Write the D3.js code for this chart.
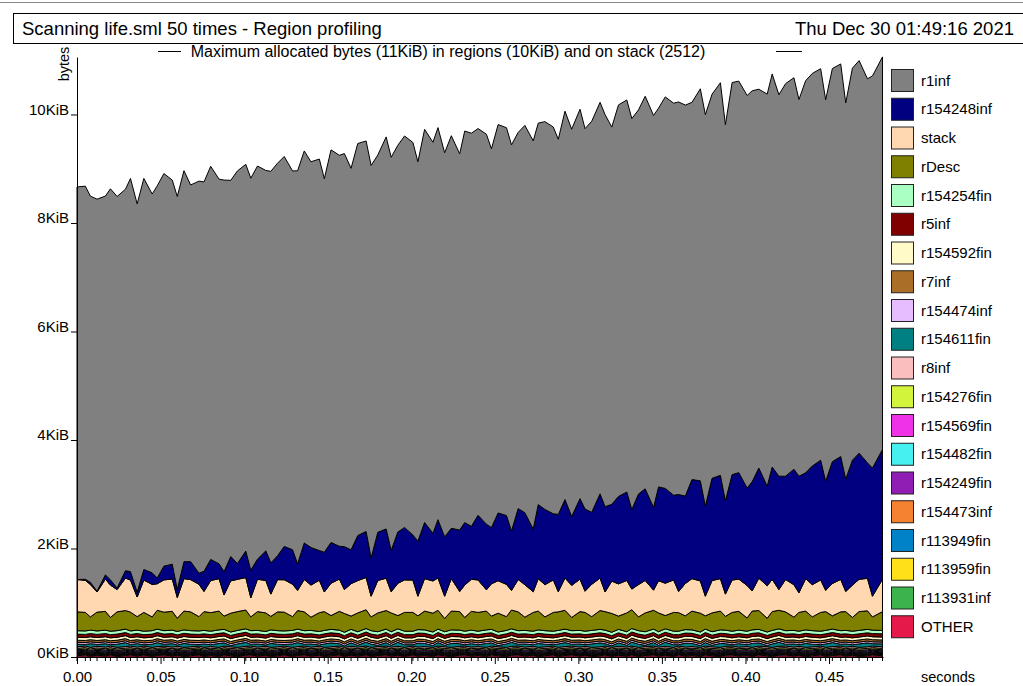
<!DOCTYPE html>
<html>
<head>
<meta charset="utf-8">
<script src="https://cdn.jsdelivr.net/npm/d3@7"></script>
<style>
  body { margin: 0; background: #fff; }
  text { font-family: "Liberation Sans", Arial, sans-serif; fill: #000; }
</style>
</head>
<body>
<script>
// Sample times (seconds)
const times = [
  0.000, 0.005, 0.008, 0.012, 0.017, 0.020, 0.024, 0.029, 0.032, 0.036,
  0.040, 0.045, 0.048, 0.052, 0.057, 0.060, 0.064, 0.068, 0.073, 0.076,
  0.080, 0.085, 0.088, 0.092, 0.096, 0.101, 0.104, 0.108, 0.113, 0.116,
  0.120, 0.124, 0.129, 0.132, 0.136, 0.140, 0.145, 0.148, 0.152, 0.157,
  0.160, 0.164, 0.168, 0.173, 0.176, 0.180, 0.185, 0.188, 0.192, 0.196,
  0.201, 0.204, 0.208, 0.213, 0.216, 0.220, 0.224, 0.229, 0.232, 0.236,
  0.240, 0.245, 0.248, 0.252, 0.257, 0.260, 0.264, 0.268, 0.273, 0.276,
  0.280, 0.285, 0.288, 0.292, 0.296, 0.301, 0.304, 0.308, 0.313, 0.316,
  0.320, 0.324, 0.329, 0.332, 0.336, 0.340, 0.345, 0.348, 0.352, 0.357,
  0.360, 0.364, 0.368, 0.373, 0.376, 0.380, 0.385, 0.388, 0.392, 0.396,
  0.401, 0.404, 0.408, 0.413, 0.416, 0.420, 0.424, 0.429, 0.432, 0.436,
  0.440, 0.445, 0.448, 0.452, 0.457, 0.460, 0.464, 0.468, 0.473, 0.476,
  0.482
];

// Bytes per region at each sample
const r1inf = [
  7410, 7420, 7290, 7400, 7150, 7380, 7390, 7200, 7420, 7330,
  7380, 7150, 7400, 7410, 7250, 7420, 7380, 7110, 7400, 7350,
  7420, 7260, 7390, 7100, 7410, 7300, 7400, 7420, 7180, 7390,
  7410, 7360, 7150, 7420, 7400, 7280, 7390, 7050, 7410, 7380,
  7420, 7200, 7400, 7370, 7410, 7120, 7400, 7420, 7300, 7390,
  7410, 7160, 7420, 7380, 7400, 7250, 7410, 7100, 7390, 7420,
  7300, 7360, 7150, 7330, 7320, 7290, 7100, 7310, 7330, 7200,
  7320, 7300, 7080, 7330, 7310, 7350, 7180, 7380, 7390, 7400,
  7120, 7390, 7400, 7380, 7250, 7410, 7400, 7150, 7390, 7400,
  7410, 7380, 7120, 7400, 7390, 7250, 7410, 7100, 7400, 7390,
  7410, 7380, 7150, 7400, 7420, 7200, 7410, 7390, 7110, 7400,
  7410, 7390, 7200, 7420, 7410, 7100, 7400, 7410, 7250, 7400,
  7410
];
const r154248inf = [
  0, 20, 40, 15, 80, 100, 30, 140, 160, 90,
  200, 220, 110, 260, 280, 150, 320, 340, 210, 380,
  400, 280, 440, 460, 300, 500, 520, 380, 560, 590,
  450, 630, 650, 500, 690, 710, 560, 750, 770, 620,
  810, 640, 850, 870, 720, 910, 930, 780, 970, 990,
  850, 1040, 1060, 900, 1100, 1120, 950, 1160, 1180, 1000,
  1220, 1240, 1060, 1280, 1300, 1120, 1340, 1360, 1180, 1400,
  1420, 1250, 1460, 1480, 1300, 1520, 1550, 1360, 1590, 1610,
  1450, 1650, 1670, 1500, 1710, 1730, 1560, 1770, 1790, 1600,
  1830, 1650, 1870, 1890, 1700, 1930, 1950, 1760, 1990, 2010,
  1840, 2060, 2080, 1880, 2120, 2140, 1950, 2180, 2200, 2000,
  2240, 2260, 2060, 2300, 2320, 2120, 2360, 2380, 2180, 2420,
  2450
];
const stack = [
  610, 605, 612, 380, 608, 610, 420, 612, 605, 370,
  610, 612, 500, 608, 610, 390, 612, 608, 610, 380,
  605, 612, 400, 610, 608, 612, 360, 610, 612, 420,
  608, 610, 612, 380, 610, 605, 612, 370, 610, 608,
  450, 612, 610, 608, 390, 612, 610, 400, 608, 612,
  610, 370, 612, 608, 610, 420, 612, 380, 610, 605,
  612, 400, 610, 612, 608, 370, 610, 612, 390, 610,
  608, 612, 380, 610, 605, 612, 400, 610, 612, 370,
  610, 608, 612, 390, 610, 612, 380, 608, 610, 612,
  400, 610, 612, 608, 370, 610, 612, 420, 610, 608,
  612, 380, 610, 612, 608, 390, 610, 612, 370, 610,
  608, 612, 400, 610, 612, 380, 608, 610, 612, 390,
  610
];
const rDesc = [
  355, 350, 250, 355, 355, 260, 355, 350, 355, 255,
  355, 260, 355, 350, 355, 250, 355, 355, 270, 355,
  350, 355, 250, 355, 355, 355, 260, 355, 350, 255,
  355, 355, 260, 350, 355, 250, 355, 355, 260, 355,
  355, 250, 355, 355, 260, 355, 350, 355, 250, 355,
  355, 260, 355, 355, 355, 250, 355, 350, 260, 355,
  355, 355, 250, 355, 260, 355, 355, 250, 355, 355,
  260, 355, 350, 355, 250, 355, 355, 260, 355, 350,
  355, 250, 355, 355, 260, 355, 355, 355, 250, 355,
  350, 260, 355, 355, 250, 355, 355, 260, 355, 355,
  250, 355, 355, 260, 355, 350, 355, 250, 355, 355,
  260, 355, 355, 250, 355, 355, 260, 355, 350, 250,
  355
];
const r154611fin = [
  50, 30, 70, 35, 65, 25, 60, 75, 30, 65,
  25, 60, 75, 35, 65, 25, 75, 50, 30, 65,
  35, 75, 60, 25, 65, 75, 35, 60, 25, 75,
  50, 30, 65, 75, 35, 60, 25, 65, 75, 45,
  30, 65, 35, 75, 60, 25, 65, 35, 75, 50,
  25, 75, 60, 35, 65, 30, 75, 50, 25, 65,
  35, 75, 60, 25, 65, 75, 35, 60, 30, 75,
  50, 25, 65, 75, 35, 60, 30, 65, 75, 45,
  30, 65, 35, 75, 60, 25, 65, 35, 75, 50,
  25, 75, 60, 35, 65, 30, 75, 50, 25, 65,
  35, 75, 60, 25, 65, 75, 35, 60, 30, 75,
  50, 25, 65, 75, 35, 60, 30, 65, 75, 45,
  55
];
const other = [
  25, 40, 15, 35, 20, 40, 15, 30, 40, 20,
  40, 15, 30, 40, 20, 35, 15, 25, 40, 15,
  30, 15, 40, 25, 15, 35, 40, 20, 35, 15,
  25, 40, 15, 30, 40, 20, 35, 15, 25, 40,
  15, 35, 20, 40, 15, 30, 40, 20, 35, 15,
  40, 20, 30, 15, 40, 25, 15, 35, 40, 20,
  30, 15, 40, 25, 15, 35, 40, 20, 35, 15,
  25, 40, 15, 30, 40, 20, 35, 15, 25, 40,
  15, 35, 20, 40, 15, 30, 40, 20, 35, 15,
  40, 20, 30, 15, 40, 25, 15, 35, 40, 20,
  30, 15, 40, 25, 15, 35, 40, 20, 35, 15,
  25, 40, 15, 30, 40, 20, 35, 15, 25, 40,
  25
];
// Small regions: typical size in bytes (they barely move)
const smallRegionBytes = {
  r154254fin: 65, r5inf: 60, r154592fin: 55, r7inf: 40, r154474inf: 35,
  r8inf: 30, r154276fin: 25, r154569fin: 22, r154482fin: 20,
  r154249fin: 18, r154473inf: 16, r113949fin: 14, r113959fin: 12, r113931inf: 10
};

// Legend order = stacking order from the top down
const regionNames = [
  "r1inf", "r154248inf", "stack", "rDesc", "r154254fin", "r5inf", "r154592fin",
  "r7inf", "r154474inf", "r154611fin", "r8inf", "r154276fin", "r154569fin",
  "r154482fin", "r154249fin", "r154473inf", "r113949fin", "r113959fin",
  "r113931inf", "OTHER"
];
const regionColors = [
  "#808080", "#000080", "#ffd8b1", "#808000", "#aaffc3", "#800000", "#fffac8",
  "#aa6e28", "#e6beff", "#008080", "#fabebe", "#d2f53c", "#f032e6",
  "#46f0f0", "#911eb4", "#f58231", "#0082c8", "#ffe119",
  "#3cb44b", "#e6194b"
];
const xTicks = [0, 0.05, 0.10, 0.15, 0.20, 0.25, 0.30, 0.35, 0.40, 0.45];
const yTicks = [0, 2048, 4096, 6144, 8192, 10240];

const title = "Scanning life.sml 50 times - Region profiling";
const dateText = "Thu Dec 30 01:49:16 2021";
const subtitle = "Maximum allocated bytes (11KiB) in regions (10KiB) and on stack (2512)";

const width = 1023;
const height = 686;
const plot = {left: 77, right: 883, top: 57, bottom: 657};

const svg = d3.select('body').append('svg')
    .attr('width', width)
    .attr('height', height);

const rows = times.map((t, i) => {
    const row = {t: t};
    row.r1inf = r1inf[i];
    row.r154248inf = r154248inf[i];
    row.stack = stack[i];
    row.rDesc = rDesc[i];
    row.r154611fin = r154611fin[i];
    row.OTHER = other[i];
    Object.keys(smallRegionBytes).forEach(k => { row[k] = smallRegionBytes[k]; });
    return row;
});

const keysBottomUp = regionNames.slice().reverse();
const series = d3.stack().keys(keysBottomUp)(rows);
const color = d3.scaleOrdinal().domain(regionNames).range(regionColors);

const x = d3.scaleLinear()
    .domain([0, 0.4823])
    .range([plot.left, plot.right]);

const y = d3.scaleLinear()
    .domain([0, 11325])
    .range([plot.bottom, plot.top]);

// page frame + title box
svg.append('line')
    .attr('x1', 0).attr('x2', width).attr('y1', 2.5).attr('y2', 2.5)
    .attr('stroke', '#888').attr('stroke-width', 1);
svg.append('rect')
    .attr('x', 13.5).attr('y', 13.5).attr('width', 1020).attr('height', 30)
    .attr('fill', 'none').attr('stroke', '#000').attr('stroke-width', 1);
svg.append('text')
    .attr('x', 22).attr('y', 35)
    .style('font-size', '18.5px')
    .text(title);
svg.append('text')
    .attr('x', 1014).attr('y', 35)
    .attr('text-anchor', 'end')
    .style('font-size', '18.5px')
    .text(dateText);

// subtitle with marker lines
svg.append('text')
    .attr('x', 448).attr('y', 57)
    .attr('text-anchor', 'middle')
    .style('font-size', '16px')
    .text(subtitle);
[[158, 181], [776, 802]].forEach(([a, b]) => {
    svg.append('line')
        .attr('x1', a).attr('x2', b).attr('y1', 51.5).attr('y2', 51.5)
        .attr('stroke', '#000').attr('stroke-width', 1);
});

// stacked areas
const area = d3.area()
    .x(d => x(d.data.t))
    .y0(d => y(d[0]))
    .y1(d => y(d[1]));

svg.append('g')
    .selectAll('path')
    .data(series)
    .join('path')
    .attr('d', area)
    .attr('fill', d => color(d.key))
    .attr('stroke', '#000')
    .attr('stroke-width', 1)
    .attr('stroke-linejoin', 'miter');

// Left axis
const yAxis = svg.append('g')
    .attr('transform', `translate(${plot.left},0)`)
    .call(d3.axisLeft(y)
        .tickValues(yTicks)
        .tickFormat(d => (d / 1024) + 'KiB')
        .tickSize(6)
        .tickSizeOuter(0)
        .tickPadding(2));
yAxis.selectAll('text')
    .attr('dy', '0')
    .style('font-size', '15px')
    .style('font-family', '"Liberation Sans", Arial, sans-serif');
yAxis.selectAll('line, path').attr('stroke', '#000');

svg.append('text')
    .attr('transform', 'translate(69,64) rotate(-90)')
    .attr('text-anchor', 'middle')
    .style('font-size', '14.5px')
    .text('bytes');

// Bottom axis
const xAxis = svg.append('g')
    .attr('transform', `translate(0,${plot.bottom})`)
    .call(d3.axisBottom(x)
        .tickValues(xTicks)
        .tickFormat(d3.format('.2f'))
        .tickSize(7)
        .tickSizeOuter(0)
        .tickPadding(7));
xAxis.selectAll('text')
    .style('font-size', '15px')
    .style('font-family', '"Liberation Sans", Arial, sans-serif');
xAxis.selectAll('line, path').attr('stroke', '#000');

// sample rug along the time axis
svg.append('g')
    .selectAll('line')
    .data(times)
    .join('line')
    .attr('x1', d => x(d)).attr('x2', d => x(d))
    .attr('y1', plot.bottom).attr('y2', plot.bottom + 4)
    .attr('stroke', '#000')
    .attr('stroke-width', 1);

svg.append('text')
    .attr('x', 921).attr('y', 682)
    .style('font-size', '14.5px')
    .text('seconds');

// Legend
const legend = svg.append('g')
    .selectAll('g')
    .data(regionNames)
    .join('g')
    .attr('transform', (d, i) => `translate(891,${69 + i * 28.75})`);
legend.append('rect')
    .attr('x', 0.5).attr('y', 0.5)
    .attr('width', 22).attr('height', 22)
    .attr('fill', d => color(d))
    .attr('stroke', '#222')
    .attr('stroke-width', 1);
legend.append('text')
    .attr('x', 30).attr('y', 16.5)
    .style('font-size', '15px')
    .text(d => d);
</script>
</body>
</html>
